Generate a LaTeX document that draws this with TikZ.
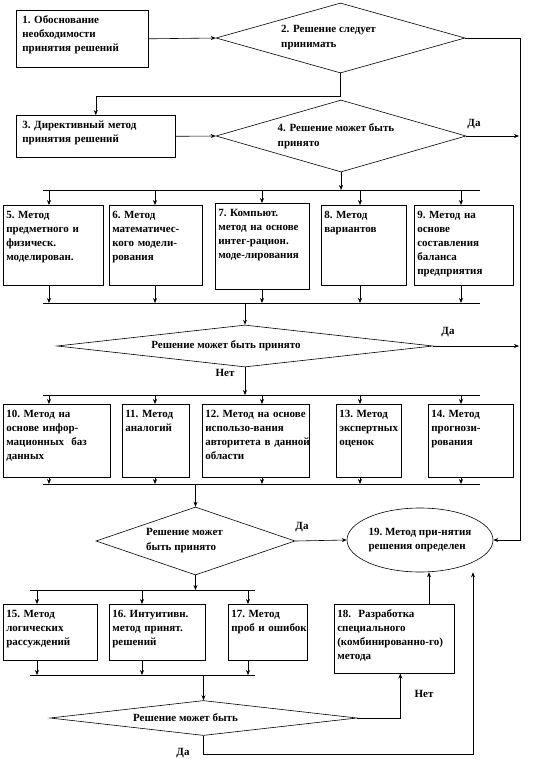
\documentclass[tikz,border=0pt]{standalone}
\usepackage{fontspec}
\setmainfont{Liberation Serif}
\usepackage{tikz}
\usetikzlibrary{
  shapes.geometric,
  arrows.meta,
  positioning
}
\tikzset{
  strelka/.style = {-{Stealth[length=5pt, width=4pt]}, line width=0.6pt},
  liniya/.style  = {line width=0.6pt},
  blok/.style    = {draw, line width=0.6pt, fill=white, anchor=north west,
                    align=left, inner xsep=3pt, inner ysep=3pt, text height=10pt,
                    font=\fontsize{11}{14}\selectfont\bfseries},
  romb/.style    = {diamond, draw, line width=0.6pt, inner sep=0pt, align=left,
                    font=\fontsize{11}{15}\selectfont\bfseries},
  oval/.style    = {ellipse, draw, line width=0.6pt, inner sep=0pt, align=left,
                    font=\fontsize{11}{14}\selectfont\bfseries},
  metka/.style   = {font=\fontsize{11}{13}\selectfont\bfseries},
}

\begin{document}
\begin{tikzpicture}[x=1pt, y=-1pt]
    \useasboundingbox (0,0) rectangle (540,774);

    % --- TOP: first decision ---
    \node[blok, inner xsep=6pt, text width=120pt, text depth=41pt] (b1) at (16,10)
        {1.~Обоснование\\необходимости\\принятия~решений};
    \node[romb, aspect=3.557, minimum width=249pt, minimum height=70pt] (d2) at (340.5,38)
        {2. Решение следует\rule{24pt}{0pt}\\принимать};
    \node[blok, inner xsep=6pt, text width=147pt, text depth=26pt] (b3) at (16,115)
        {3.~Директивный~метод\\принятия~решений};
    \node[romb, aspect=3.472, minimum width=250pt, minimum height=72pt] (d4) at (341,136)
        {4. Решение может быть\rule{10pt}{0pt}\\принято};

    % rail on the right
    \coordinate (rail) at (520,0);

    % --- ROW 1: methods 5..9 ---
    \node[blok, text width=94pt, text depth=64pt] (b5) at (3,205)
        {5.~Метод\\предметного~и\\физическ.\\моделирован.};
    \node[blok, text width=87pt, text depth=64pt] (b6) at (109,205)
        {6.~Метод\\математичес-\\кого~модели-\\рования};
    \node[blok, text width=88pt, text depth=70pt] (b7) at (215,203)
        {7.~Компьют.\\метод~на~основе\\интег-рацион.\\моде-лирования};
    \node[blok, text width=79pt, text depth=64pt] (b8) at (321,205)
        {8.~Метод\\вариантов};
    \node[blok, text width=93pt, text depth=64pt] (b9) at (414,205)
        {9.~Метод~на\\основе\\составления\\баланса\\предприятия};

    \node[romb, align=center, aspect=8.95, minimum width=376pt, minimum height=42pt] (d5) at (245,346)
        {Решение может быть принято\rule{38pt}{0pt}};

    % --- ROW 2: methods 10..14 ---
    \node[blok, text width=101pt, text depth=57pt] (b10) at (3,404)
        {10.~Метод~на\\основе~инфор-\\мационных~~баз\\данных};
    \node[blok, text width=61pt, text depth=57pt] (b11) at (122,404)
        {11.~Метод\\аналогий};
    \node[blok, text width=101pt, text depth=57pt] (b12) at (202,404)
        {12.~Метод~на~основе\\использо-вания\\авторитета~в~данной\\области};
    \node[blok, text width=59pt, text depth=57pt] (b13) at (336,404)
        {13.~Метод\\экспертных\\оценок};
    \node[blok, text width=79pt, text depth=57pt] (b14) at (428,404)
        {14.~Метод\\прогнози-\\рования};

    \node[romb, aspect=2.926, minimum width=199pt, minimum height=68pt] (d6) at (195.5,541)
        {Решение может\rule{22pt}{0pt}\\быть принято};
    \node[oval, minimum width=146pt, minimum height=64pt] (e19) at (420,540)
        {19.~Метод при-нятия\\решения определен};

    % --- ROW 3: methods 15..18 ---
    \node[blok, text width=88pt, text depth=40pt] (b15) at (3,604)
        {15.~Метод\\логических\\рассуждений};
    \node[blok, text width=90pt, text depth=40pt] (b16) at (109,604)
        {16.~Интуитивн.\\метод~принят.\\решений};
    \node[blok, text width=73pt, text depth=40pt] (b17) at (228,604)
        {17.~Метод\\проб~и~ошибок};
    \node[blok, text width=114pt, text depth=53pt] (b18) at (334,604)
        {18.~~Разработка\\специального\\(комбинированно-го)\\метода};

    \node[romb, align=center, aspect=8.77, minimum width=307pt, minimum height=35pt] (d7) at (203.5,718)
        {Решение может быть\rule{36pt}{0pt}};

    % Bus lines
    \coordinate (s1) at (43,190);  \coordinate (s1e) at (480,190);
    \coordinate (s2) at (43,303);  \coordinate (s2e) at (480,303);
    \coordinate (s3) at (43,395);  \coordinate (s3e) at (480,395);
    \coordinate (s4) at (43,484);  \coordinate (s4e) at (480,484);
    \coordinate (s5) at (30,590);  \coordinate (s5e) at (255,590);
    \coordinate (s6) at (30,675);  \coordinate (s6e) at (255,675);
    \foreach \a/\b in {s1/s1e, s2/s2e, s3/s3e, s4/s4e, s5/s5e, s6/s6e}
        \draw[liniya] (\a) -- (\b);

    % Connectors at the top
    \draw[strelka] (b1.east) -- (d2.west);
    \draw[strelka] (d2.south) -- ++(0,23) -| (b3.north);
    \draw[strelka] (b3.east) -- (d4.west);
    \draw[strelka] (d2.east) -- (d2.east -| rail) -- (rail |- e19.east) -- (e19.east);
    \draw[strelka] (d4.east) -- ([xshift=-1pt]d4.east -| rail);
    \draw[strelka] (d4.south) -- (d4.south |- s1);

    % Row 1 drops
    \foreach \x/\b in {49/b5, 155/b6, 262/b7, 360/b8, 461/b9} {
        \draw[strelka] (\x,0 |- s1) -- (\x,0 |- \b.north);
        \draw[strelka] (\x,0 |- \b.south) -- (\x,0 |- s2);
    }
    \draw[strelka] (d5.north |- s2) -- (d5.north);
    \draw[strelka] (d5.east) -- ([xshift=-1pt]d5.east -| rail);
    \draw[strelka] (d5.south) -- (d5.south |- s3);

    % Row 2 drops
    \foreach \x/\b in {49/b10, 155/b11, 262/b12, 360/b13, 461/b14} {
        \draw[strelka] (\x,0 |- s3) -- (\x,0 |- \b.north);
        \draw[strelka] (\x,0 |- \b.south) -- (\x,0 |- s4);
    }
    \draw[strelka] (d6.north |- s4) -- (d6.north);
    \draw[strelka] (d6.east) -- (e19.west);
    \draw[strelka] (d6.south) -- (d6.south |- s5);

    % Row 3 drops
    \foreach \x/\b in {37/b15, 142/b16, 248/b17} {
        \draw[strelka] (\x,0 |- s5) -- (\x,0 |- \b.north);
        \draw[strelka] (\x,0 |- \b.south) -- (\x,0 |- s6);
    }
    \draw[strelka] (d7.north |- s6) -- (d7.north);
    \draw[strelka] (d7.east) -| ([xshift=6pt]b18.south);
    \draw[strelka] ([xshift=9pt]e19.south |- b18.north) -- ([xshift=9pt]e19.south);
    \draw[strelka] (d7.south) -- ++(0,18) -| ([xshift=53pt]e19.south);

    % Yes / No labels
    \node[metka] (da4) at (474,124) {Да};
    \node[metka] (da5) at (448,332) {Да};
    \node[metka] (net5) at (225,373) {Нет};
    \node[metka] (da6) at (302,527) {Да};
    \node[metka] (net7) at (424,694) {Нет};
    \node[metka] (da7) at (183,753) {Да};

\end{tikzpicture}
\end{document}
